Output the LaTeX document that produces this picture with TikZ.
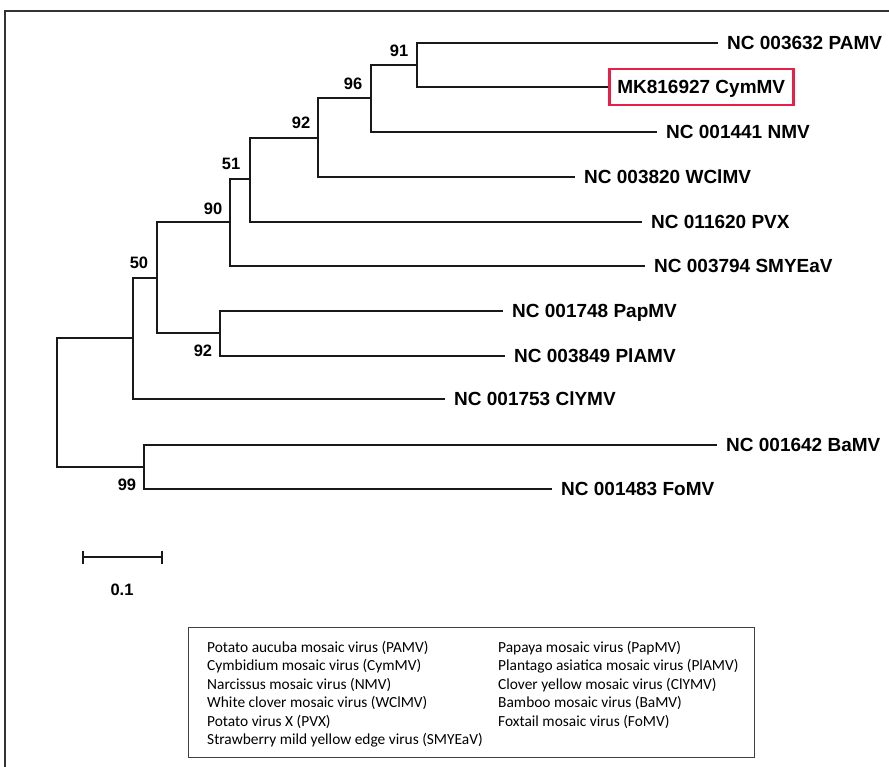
\documentclass[tikz,border=0pt]{standalone}
\usepackage{fontspec}
\setmainfont{Liberation Sans}
\newfontfamily\legfont{Carlito}
\definecolor{hl}{RGB}{232,32,72}
\begin{document}
\begin{tikzpicture}[x=1pt,y=-1pt,
  edge/.style={line width=2.5pt, line join=miter, black!90},
  leaf/.style={anchor=west, inner xsep=9pt, inner ysep=0pt, text height=13.6pt, text depth=0pt, font=\bfseries\fontsize{19}{22}\selectfont},
  hlbox/.style={leaf, draw=hl, line width=2.6pt, inner xsep=8pt, minimum height=36pt},
  bs/.style={font=\bfseries\fontsize{16.5}{19}\selectfont, inner sep=0pt},
  legtext/.style={anchor=base west, inner sep=0pt, font=\legfont\fontsize{15.4}{18}\selectfont},
  frame/.style={line width=1.8pt, black!80},
]
\useasboundingbox (0,0) rectangle (889,767);
% outer frame
\draw[frame] (5,767) -- (5,11) -- (889,11);

% internal nodes
\coordinate (root) at (57,402);
\coordinate (nA) at (133,338);
\coordinate (nB) at (157,278);
\coordinate (nC) at (230,222);
\coordinate (nD) at (250,179);
\coordinate (nE) at (318,138);
\coordinate (nF) at (371,98);
\coordinate (nG) at (417,65);
\coordinate (nP) at (220,333);
\coordinate (nR) at (144,467);

% leaves
\node[leaf] (pamv) at (718,43) {NC 003632 PAMV};
\node[hlbox] (cymmv) at (608,87) {MK816927 CymMV};
\node[leaf] (nmv) at (657,132) {NC 001441 NMV};
\node[leaf] (wclmv) at (575,177) {NC 003820 WClMV};
\node[leaf] (pvx) at (642,222) {NC 011620 PVX};
\node[leaf] (smyeav) at (645,266) {NC 003794 SMYEaV};
\node[leaf] (papmv) at (503,311) {NC 001748 PapMV};
\node[leaf] (plamv) at (505,356) {NC 003849 PlAMV};
\node[leaf] (clymv) at (445,399) {NC 001753 ClYMV};
\node[leaf] (bamv) at (717,445) {NC 001642 BaMV};
\node[leaf] (fomv) at (552,489) {NC 001483 FoMV};

% branches
\draw[edge] (root) |- (nA);
\draw[edge] (root) |- (nR);
\draw[edge] (nA) |- (nB);
\draw[edge] (nA) |- (clymv.west);
\draw[edge] (nB) |- (nC);
\draw[edge] (nB) |- (nP);
\draw[edge] (nC) |- (nD);
\draw[edge] (nC) |- (smyeav.west);
\draw[edge] (nD) |- (nE);
\draw[edge] (nD) |- (pvx.west);
\draw[edge] (nE) |- (nF);
\draw[edge] (nE) |- (wclmv.west);
\draw[edge] (nF) |- (nG);
\draw[edge] (nF) |- (nmv.west);
\draw[edge] (nG) |- (pamv.west);
\draw[edge] (nG) |- (cymmv.west);
\draw[edge] (nP) |- (papmv.west);
\draw[edge] (nP) |- (plamv.west);
\draw[edge] (nR) |- (bamv.west);
\draw[edge] (nR) |- (fomv.west);

% bootstrap values
\node[bs] (b91) at (399,51) {91};
\node[bs] (b96) at (353,83.5) {96};
\node[bs] (b92a) at (301,123) {92};
\node[bs] (b51) at (231,164) {51};
\node[bs] (b90) at (213,208.5) {90};
\node[bs] (b50) at (139,263) {50};
\node[bs] (b92b) at (203,351) {92};
\node[bs] (b99) at (127,485) {99};

% scale bar
\coordinate (sb1) at (83,557);
\coordinate (sb2) at (162,557);
\draw[edge] (sb1) -- (sb2);
\draw[edge] ([yshift=6.5pt]sb1) -- ([yshift=-6.5pt]sb1);
\draw[edge] ([yshift=6.5pt]sb2) -- ([yshift=-6.5pt]sb2);
\node[bs] (sblabel) at (122,590) {0.1};

% legend
\node[draw=black!75, line width=1.2pt, anchor=north west, inner sep=0pt, minimum width=566pt, minimum height=130pt] (legend) at (188,627) {};
\foreach \t [count=\i] in {{Potato aucuba mosaic virus (PAMV)},{Cymbidium mosaic virus (CymMV)},{Narcissus mosaic virus (NMV)},{White clover mosaic virus (WClMV)},{Potato virus X (PVX)},{Strawberry mild yellow edge virus (SMYEaV)}}
  \node[legtext] (legL\i) at (207,{652+18.55*(\i-1)}) {\t};
\foreach \t [count=\i] in {{Papaya mosaic virus (PapMV)},{Plantago asiatica mosaic virus (PlAMV)},{Clover yellow mosaic virus (ClYMV)},{Bamboo mosaic virus (BaMV)},{Foxtail mosaic virus (FoMV)}}
  \node[legtext] (legR\i) at (498,{652+18.55*(\i-1)}) {\t};
\end{tikzpicture}
\end{document}
